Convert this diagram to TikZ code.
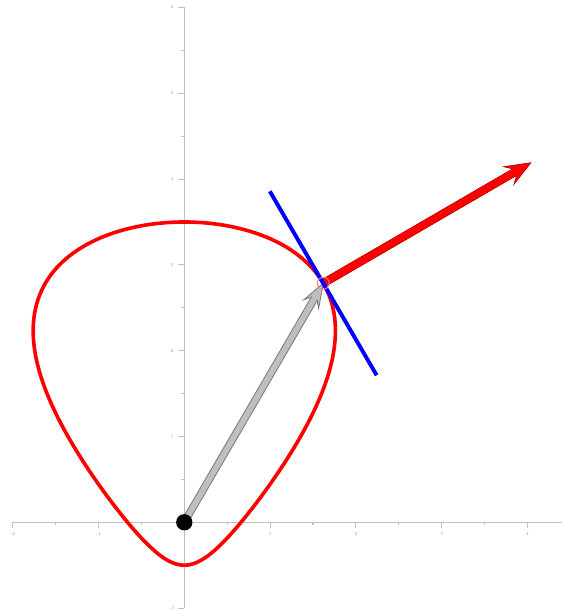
\documentclass[tikz,border=0pt]{standalone}
\usepackage{tikz}
\usetikzlibrary{calc}

\tikzset{
  axisline/.style={draw=black!25, line width=0.35pt},
  ticklabel/.style={text=black!40, inner sep=0pt, font=\fontsize{1.5}{1.5}\selectfont},
  % 太い矢印 {軸幅}{先端長}{先端幅}{くぼみ}
  fatarrow/.style n args={4}{to path={
    let \p1=($(\tikztotarget)-(\tikztostart)$), \n1={atan2(\y1,\x1)} in
    ($(\tikztostart)+(\n1+90:#1)$)
    -- ($(\tikztotarget)+(\n1:-#4)+(\n1+90:#1)$)
    -- ($(\tikztotarget)+(\n1:-#2)+(\n1+90:#3)$)
    -- (\tikztotarget)
    -- ($(\tikztotarget)+(\n1:-#2)+(\n1-90:#3)$)
    -- ($(\tikztotarget)+(\n1:-#4)+(\n1-90:#1)$)
    -- ($(\tikztostart)+(\n1-90:#1)$) -- cycle}},
}

\begin{document}
\begin{tikzpicture}
\useasboundingbox (-2.148,-1.034) rectangle (4.402,6.087);

% 軸
\draw[axisline] (-2,0) -- (4.402,0);
\draw[axisline] (0,-1) -- (0,6);
\foreach \x in {-2,-1,1,2,3,4} {
  \draw[axisline] (\x,0) -- (\x,-0.07);
  \node[ticklabel] at (\x,-0.14) {\x};
}
\foreach \x in {-1.5,-0.5,0.5,1.5,2.5,3.5}
  \draw[axisline] (\x,0) -- (\x,-0.035);
\foreach \y in {-1,1,2,3,4,5,6} {
  \draw[axisline] (0,\y) -- (-0.07,\y);
  \node[ticklabel] at (-0.14,\y) {\y};
}
\foreach \y in {-0.5,0.5,1.5,2.5,3.5,4.5,5.5}
  \draw[axisline] (0,\y) -- (-0.035,\y);

% 曲線
\draw[red, line width=1.2pt, domain=0:360, samples=240, smooth, variable=\t]
  plot ({sin(\t)*(1.6-0.8*cos(\t))},{1.5-2*cos(\t)});

\coordinate (O) at (0,0);
\coordinate (P) at (1.620,2.786);
\coordinate (N) at (4.040,4.191);
\coordinate (T1) at (0.997,3.858);
\coordinate (T2) at (2.242,1.713);

% 位置ベクトル
\filldraw[fill=black!25, draw=black!50, line width=0.3pt, fatarrow={0.04}{0.28}{0.1}{0.21}] (O) to (P);

% 法線ベクトル
\filldraw[fill=red, draw=red!70!black, line width=0.2pt, fatarrow={0.045}{0.3}{0.12}{0.22}] (P) to (N);

% 接線
\draw[blue, line width=1.3pt] (T1) -- (T2);

\draw[red!50, line width=0.3pt] (P) circle (0.07);
\fill[black] (O) circle (0.095);
\end{tikzpicture}
\end{document}
